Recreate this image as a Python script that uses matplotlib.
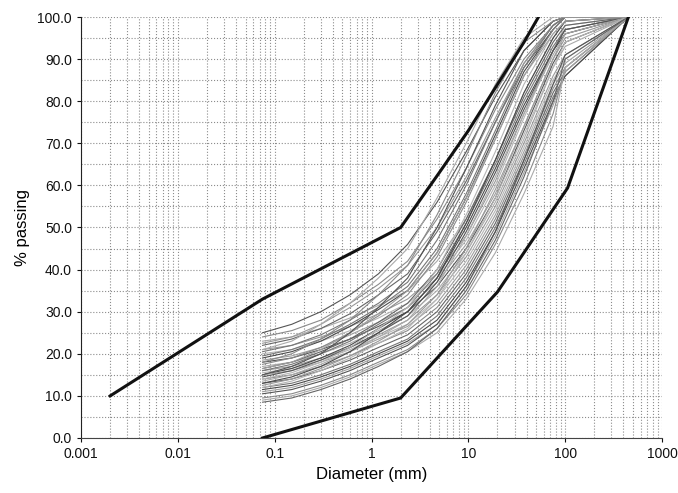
import matplotlib.pyplot as plt
import numpy as np
from matplotlib.ticker import FixedLocator, FuncFormatter, NullFormatter

plt.rcParams['font.family'] = ['Liberation Sans', 'DejaVu Sans']

# sieve sizes (mm) used by the sample curves
sizes = [0.075, 0.15, 0.3, 0.6, 1.18, 2.36, 4.75, 9.5, 19, 37.5, 75, 100, 450]

# % passing of each sample
samples = [
    [25.0, 27.0, 30.0, 34.0, 39.0, 46.0, 56, 68, 81, 92, 99, 100, 100],
    [24.0, 25.5, 28.0, 32.0, 36.5, 42.0, 52, 64, 78, 90, 98, 100, 100],
    [23.0, 24.0, 26.0, 28.5, 31.5, 35.0, 42, 52, 66, 82, 95, 99, 100],
    [22.0, 23.5, 26.0, 29.5, 34.0, 39.0, 49, 61, 75, 88, 97, 100, 100],
    [21.0, 22.0, 24.0, 26.5, 29.5, 33.0, 39, 48, 61, 77, 92, 97, 100],
    [20.5, 22.0, 24.5, 28.0, 32.0, 37.0, 47, 60, 75, 89, 98, 100, 100],
    [20.0, 21.0, 23.0, 25.5, 28.5, 32.0, 38, 47, 60, 76, 92, 98, 100],
    [19.0, 20.5, 23.0, 26.5, 30.5, 35.0, 44, 57, 72, 87, 97, 100, 100],
    [18.5, 19.5, 21.5, 24.5, 27.5, 31.0, 37, 46, 58, 74, 90, 96, 100],
    [18.0, 19.0, 21.0, 23.5, 26.5, 30.0, 36, 45, 57, 73, 89, 94, 100],
    [17.5, 19.0, 21.5, 25.0, 29.0, 34.0, 43, 56, 71, 86, 97, 100, 100],
    [17.0, 18.0, 20.0, 22.5, 25.5, 29.0, 35, 44, 56, 71, 88, 93, 100],
    [16.5, 18.0, 20.5, 23.5, 27.5, 32.0, 40, 52, 66, 81, 94, 98, 100],
    [16.0, 17.0, 19.0, 21.5, 24.5, 28.0, 34, 43, 55, 70, 86, 91, 100],
    [16.0, 17.5, 20.0, 23.0, 27.0, 31.0, 39, 51, 65, 80, 93, 97, 100],
    [15.5, 16.5, 18.5, 21.0, 24.0, 27.0, 33, 42, 54, 69, 85, 90, 100],
    [15.0, 16.5, 19.0, 22.0, 26.0, 30.0, 38, 50, 64, 79, 92, 96, 100],
    [15.0, 16.0, 18.0, 20.5, 23.5, 26.5, 32, 41, 53, 68, 84, 89, 100],
    [14.5, 16.0, 18.5, 21.5, 25.0, 29.0, 37, 49, 63, 78, 92, 97, 100],
    [14.0, 15.0, 17.0, 19.5, 22.5, 25.5, 31, 40, 52, 67, 83, 88, 100],
    [13.5, 15.0, 17.5, 20.5, 24.0, 28.0, 36, 48, 62, 77, 91, 96, 100],
    [13.0, 14.0, 16.0, 18.5, 21.5, 24.5, 30, 39, 51, 66, 82, 87, 100],
    [12.5, 14.0, 16.5, 19.5, 23.0, 27.0, 34, 45, 59, 74, 90, 95, 100],
    [12.0, 13.0, 15.0, 17.5, 20.5, 23.5, 29, 38, 50, 65, 81, 86, 100],
    [12.0, 13.5, 16.0, 19.0, 22.5, 26.0, 33, 44, 57, 72, 88, 94, 100],
    [11.5, 12.5, 14.5, 17.0, 20.0, 23.0, 28, 37, 49, 64, 80, 86, 100],
    [11.0, 12.0, 14.0, 16.5, 19.5, 22.5, 27, 36, 48, 63, 79, 87, 100],
    [10.5, 11.5, 13.5, 16.0, 19.0, 22.0, 27, 36, 49, 66, 84, 91, 100],
    [9.5, 10.5, 12.5, 15.0, 18.0, 21.0, 26, 34, 46, 60, 77, 88, 100],
    [9.0, 10.0, 12.0, 14.5, 17.5, 20.5, 25, 33, 44, 58, 74, 88, 100],
    [8.5, 9.5, 11.5, 14.0, 17.0, 20.5, 26, 35, 47, 62, 80, 90, 100],
    [22.5, 24.0, 27.0, 31.0, 35.5, 41.0, 50, 62, 76, 89, 98, 100, 100],
    [19.5, 21.0, 23.5, 27.0, 31.0, 36.0, 45, 58, 73, 88, 98, 100, 100],
    [14.0, 15.5, 18.0, 21.5, 26.0, 31.0, 40, 53, 68, 84, 96, 99, 100],
    [13.0, 14.5, 17.0, 20.5, 25.0, 30.0, 38, 51, 66, 82, 95, 99, 100],
    [16.5, 18.0, 21.0, 25.0, 29.5, 35.0, 44, 57, 71, 86, 96, 99, 100],
    [15.0, 17.0, 20.0, 25.0, 31.0, 38.0, 50, 64, 79, 92, 99, 100, 100],
    [18.0, 20.0, 23.5, 28.0, 34.0, 41.0, 53, 67, 82, 94, 99, 100, 100],
    [21.0, 23.0, 27.0, 32.0, 38.0, 45.0, 57, 70, 84, 95, 100, 100, 100],
]

# envelope limits
upper_x = [0.002, 0.075, 2, 5, 10, 20, 37.5, 53]
upper_y = [10, 33, 50, 63, 73, 84, 94, 100]
lower_x = [0.075, 2, 20, 106, 450]
lower_y = [0, 9.5, 34.7, 59.4, 100]

x_ticks = [0.001, 0.01, 0.1, 1, 10, 100, 1000]
x_labels = ['0.001', '0.01', '0.1', '1', '10', '100', '1000']

grays = ['#555555', '#8a8a8a', '#aaaaaa', '#666666', '#999999',
         '#777777', '#b5b5b5', '#4a4a4a', '#9f9f9f']

fig = plt.figure(figsize=(6.78, 4.93), dpi=100)
ax = fig.add_axes([0.1195, 0.1116, 0.8569, 0.8539])

for i, s in enumerate(samples):
    ax.plot(sizes, s, color=grays[i % len(grays)], lw=0.8, zorder=2)

ax.plot(upper_x, upper_y, color='#111111', lw=2.2, zorder=3)
ax.plot(lower_x, lower_y, color='#111111', lw=2.2, zorder=3)

ax.set_xscale('log')
ax.set_xlim(0.001, 1000)
ax.set_ylim(0, 100)

minor_x = [m * d for d in x_ticks[:-1] for m in range(2, 10)]
ax.xaxis.set_major_locator(FixedLocator(x_ticks))
ax.xaxis.set_minor_locator(FixedLocator(minor_x))
ax.xaxis.set_minor_formatter(NullFormatter())
ax.set_xticklabels(x_labels)
ax.yaxis.set_major_locator(FixedLocator(np.arange(0, 101, 10)))
ax.yaxis.set_minor_locator(FixedLocator(np.arange(5, 100, 10)))
ax.yaxis.set_major_formatter(FuncFormatter(lambda v, p: '%.1f' % v))

ax.grid(True, which='both', color='#8c8c8c', linestyle=':', linewidth=0.8)
ax.set_axisbelow(True)

for side in ['top', 'right']:
    ax.spines[side].set_visible(False)
ax.spines['left'].set_color('#222222')
ax.spines['bottom'].set_color('#444444')
ax.tick_params(which='major', length=3, labelsize=10, colors='#111111')
ax.tick_params(which='minor', length=0)

ax.set_xlabel('Diameter (mm)', fontsize=12, labelpad=4)
ax.set_ylabel('% passing', fontsize=12, labelpad=5)

fig.savefig('out.png', dpi=100)
